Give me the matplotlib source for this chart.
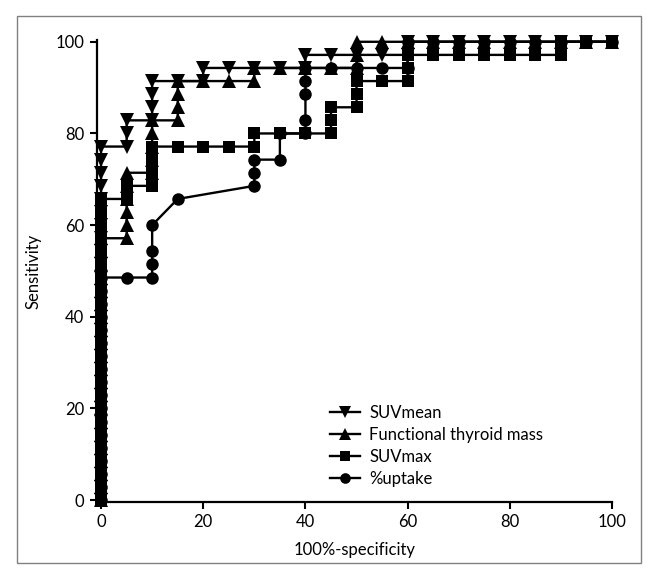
import matplotlib
matplotlib.use("Agg")
import matplotlib.pyplot as plt
from matplotlib.patches import Rectangle

plt.rcParams['font.family'] = ['Lato', 'DejaVu Sans']

step = 100 / 35.0

# ---- data (x = 100%-specificity, y = sensitivity) ----
suvmean_x = [0] * 28 + [5, 5, 5, 10, 10, 10, 10, 15, 20, 20, 25, 30, 35, 40, 40, 45, 50, 55, 60, 60,
                        65, 70, 75, 80, 85, 90, 95, 100]
suvmean_y = [i * step for i in range(28)] + [77.14, 80.0, 82.86, 82.86, 85.71, 88.57, 91.43, 91.43,
                                             91.43, 94.29, 94.29, 94.29, 94.29, 94.29, 97.14, 97.14,
                                             97.14, 97.14, 97.14, 100, 100, 100, 100, 100, 100, 100,
                                             100, 100]

ftm_x = [0] * 21 + [5, 5, 5, 5, 5, 5, 10, 10, 10, 10, 10, 15, 15, 15, 15, 20, 25, 30, 30, 35, 40, 45,
                    50, 50, 50, 55, 60, 65, 70, 75, 80, 85, 90, 95, 100]
ftm_y = [i * step for i in range(21)] + [57.14, 60.0, 62.86, 65.71, 68.57, 71.43, 71.43, 74.29, 77.14,
                                         80.0, 82.86, 82.86, 85.71, 88.57, 91.43, 91.43, 91.43, 91.43,
                                         94.29, 94.29, 94.29, 94.29, 94.29, 97.14, 100, 100, 100, 100,
                                         100, 100, 100, 100, 100, 100, 100]

suvmax_x = [0] * 24 + [5, 5, 10, 10, 10, 10, 15, 20, 25, 30, 30, 35, 40, 45, 45, 45, 50, 50, 50, 55,
                       60, 60, 60, 65, 70, 75, 80, 85, 90, 90, 95, 100]
suvmax_y = [i * step for i in range(24)] + [65.71, 68.57, 68.57, 71.43, 74.29, 77.14, 77.14, 77.14,
                                            77.14, 77.14, 80.0, 80.0, 80.0, 80.0, 82.86, 85.71, 85.71,
                                            88.57, 91.43, 91.43, 91.43, 94.29, 97.14, 97.14, 97.14,
                                            97.14, 97.14, 97.14, 97.14, 100, 100, 100]

uptake_x = [0] * 18 + [5, 10, 10, 10, 10, 15, 30, 30, 30, 35, 35, 40, 40, 40, 40, 40, 45, 50, 55, 60,
                       60, 65, 70, 75, 80, 85, 90, 95, 100]
uptake_y = [i * step for i in range(18)] + [48.57, 48.57, 51.43, 54.29, 60.0, 65.71, 68.57, 71.43,
                                            74.29, 74.29, 80.0, 80.0, 82.86, 88.57, 91.43, 94.29,
                                            94.29, 94.29, 94.29, 94.29, 100, 100, 100, 100, 100, 100,
                                            100, 100, 100]

labels = ["SUVmean", "Functional thyroid mass", "SUVmax", "%uptake"]
markers = ["v", "^", "s", "o"]
msizes = [9.5, 9.5, 8.6, 9.0]

fig = plt.figure(figsize=(6.57, 5.79), dpi=100)
ax = fig.add_axes([0.1476, 0.133, 0.7839, 0.798])

series = [(suvmean_x, suvmean_y), (ftm_x, ftm_y), (suvmax_x, suvmax_y), (uptake_x, uptake_y)]
for (xs, ys), lab, mk, ms in zip(series, labels, markers, msizes):
    ax.plot(xs, ys, color="black", lw=1.7, marker=mk, markersize=ms,
            markeredgewidth=0, label=lab, clip_on=False)

ax.set_xlim(-0.8, 100)
ax.set_ylim(-0.4, 100.4)
ax.set_xticks([0, 20, 40, 60, 80, 100])
ax.set_yticks([0, 20, 40, 60, 80, 100])
ax.tick_params(axis="both", labelsize=12, width=1.5, length=5, direction="out", pad=4)
for side in ["top", "right"]:
    ax.spines[side].set_visible(False)
for side in ["left", "bottom"]:
    ax.spines[side].set_linewidth(1.6)

ax.set_xlabel("100%-specificity", fontsize=12, labelpad=8)
ax.set_ylabel("Sensitivity", fontsize=12, labelpad=10)

leg = ax.legend(loc="upper left", bbox_to_anchor=(0.44, 0.225), frameon=False, fontsize=12,
                handlelength=1.8, handletextpad=0.55, labelspacing=0.36, borderaxespad=0,
                markerscale=0.85)

fig.patches.append(Rectangle((17 / 657, 16 / 579), 624 / 657, 547 / 579, transform=fig.transFigure,
                             fill=False, edgecolor="#808080", lw=1.0))

fig.savefig("out.png", dpi=100)
